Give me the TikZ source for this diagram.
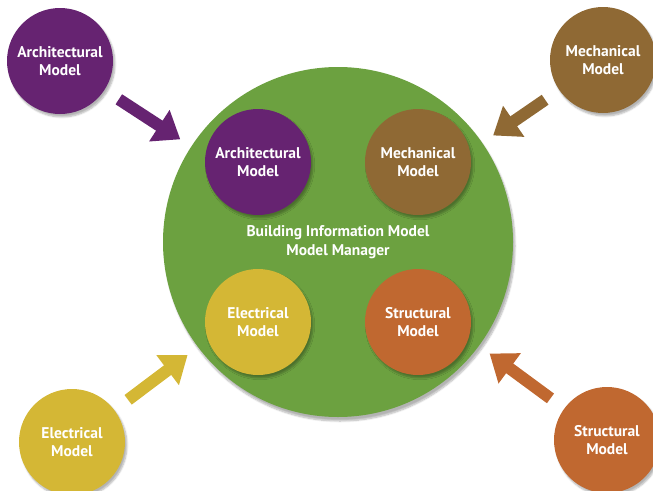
\documentclass[tikz,border=0pt]{standalone}
\usepackage{fontspec}
\setsansfont{PT Sans}
\usetikzlibrary{arrows.meta,shadows.blur}
\definecolor{bim_green}{RGB}{108,161,64}
\definecolor{arch_purple}{RGB}{102,35,113}
\definecolor{mech_brown}{RGB}{143,105,52}
\definecolor{elec_yellow}{RGB}{212,183,53}
\definecolor{struct_orange}{RGB}{192,104,48}
\tikzstyle{model}=[circle,text=white,font=\sffamily\bfseries\fontsize{15.5}{18}\selectfont,
  align=center,minimum size=106pt,inner sep=0pt,
  blur shadow={shadow xshift=2pt,shadow yshift=-3pt,shadow blur steps=6,shadow opacity=30}]
\tikzstyle{bimc}=[circle,fill=bim_green,text=white,font=\sffamily\bfseries\fontsize{15.5}{19}\selectfont,
  align=center,minimum size=350pt,inner sep=0pt,
  blur shadow={shadow xshift=2pt,shadow yshift=-4pt,shadow blur steps=8,shadow opacity=30}]
\tikzstyle{feed}=[line width=12pt,-{Triangle[length=25pt,width=36pt]},
  shorten <=17pt,shorten >=13pt]

\begin{document}
\begin{tikzpicture}[x=1pt,y=-1pt]
    \useasboundingbox (0,0) rectangle (653,490);
    % manager circle with the four inner models
    \node [style=bimc] (bim) at (338,242) {Building Information Model\\Model Manager};
    \node [style=model,fill=arch_purple] (archin) at (258,162) {Architectural\\Model};
    \node [style=model,fill=mech_brown] (mechin) at (418,162) {Mechanical\\Model};
    \node [style=model,fill=elec_yellow] (elecin) at (258,322) {Electrical\\Model};
    \node [style=model,fill=struct_orange] (structin) at (418,322) {Structural\\Model};
    % outer models
    \node [style=model,fill=arch_purple] (archout) at (60,61) {Architectural\\Model};
    \node [style=model,fill=mech_brown] (mechout) at (603,60) {Mechanical\\Model};
    \node [style=model,fill=elec_yellow] (elecout) at (72,442) {Electrical\\Model};
    \node [style=model,fill=struct_orange] (structout) at (607,440) {Structural\\Model};
    \draw [style=feed,draw=arch_purple] (archout) to (bim);
    \draw [style=feed,draw=mech_brown] (mechout) to (bim);
    \draw [style=feed,draw=elec_yellow] (elecout) to (bim);
    \draw [style=feed,draw=struct_orange] (structout) to (bim);
  \end{tikzpicture}
\end{document}
